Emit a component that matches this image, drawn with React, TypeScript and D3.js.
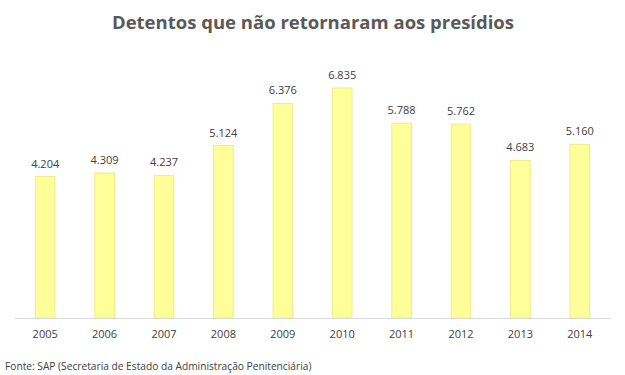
import React from "react";
import * as d3 from "d3";

const years = ["2005","2006","2007","2008","2009","2010","2011","2012","2013","2014"];
const values = [4204, 4309, 4237, 5124, 6376, 6835, 5788, 5762, 4683, 5160];
const title = "Detentos que não retornaram aos presídios";
const source = "Fonte: SAP (Secretaria de Estado da Administração Penitenciária)";

const W = 625, H = 375;
const baseY = 318;

export default function App() {
  const x = d3.scaleBand<string>().domain(years).range([15.5, 609.5]).paddingInner(0.67).paddingOuter(0.335);
  const y = d3.scaleLinear().domain([0, 6835]).range([baseY, 88]);
  const fmt = (v: number) => d3.format(",")(v).replace(/,/g, ".");
  const font = "'Open Sans', sans-serif";
  return (
    <svg width={W} height={H} style={{ position: "absolute", left: 0, top: 0, background: "#fff" }}>
      <text x={313} y={29} textAnchor="middle" fontFamily={font} fontWeight={700} fontSize={18.5} fill="#595959">{title}</text>
      {years.map((yr, i) => (
        <g key={yr}>
          <rect x={x(yr)} y={y(values[i])} width={x.bandwidth()} height={baseY - y(values[i])} fill="#FFFF99" stroke="#EDED8A" strokeWidth={1} />
          <text x={(x(yr) as number) + x.bandwidth() / 2} y={y(values[i]) - 9} textAnchor="middle" fontFamily={font} fontSize={11} fill="#404040">{fmt(values[i])}</text>
          <text x={(x(yr) as number) + x.bandwidth() / 2} y={338} textAnchor="middle" fontFamily={font} fontSize={11} fill="#404040">{yr}</text>
        </g>
      ))}
      <line x1={15} x2={611} y1={baseY + 0.5} y2={baseY + 0.5} stroke="#D9D9D9" strokeWidth={1} />
      <text x={5} y={370} fontFamily={font} fontSize={10.2} fill="#404040">{source}</text>
    </svg>
  );
}
